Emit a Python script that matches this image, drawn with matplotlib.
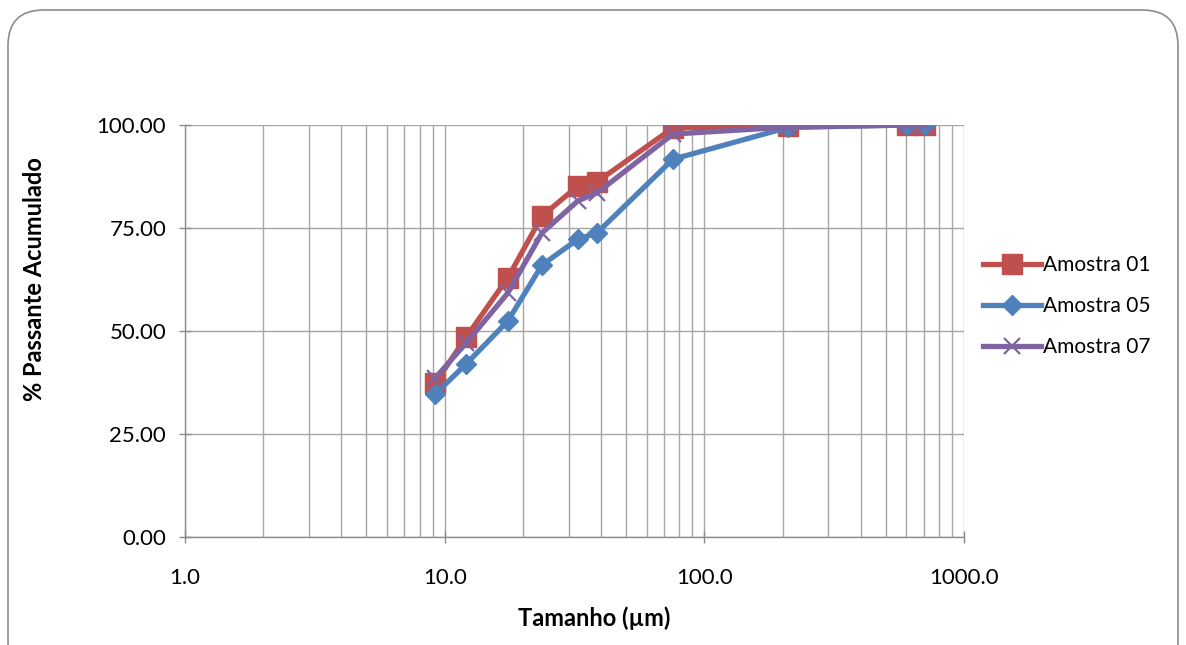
import matplotlib
matplotlib.use("Agg")
import matplotlib.pyplot as plt
from matplotlib.patches import FancyBboxPatch
from matplotlib.ticker import FixedLocator, FixedFormatter, LogLocator, NullFormatter

sizes = [9.2, 12.1, 17.5, 23.7, 32.6, 38.6, 75.7, 210, 603, 707]
amostra01 = [37.4, 48.5, 62.9, 77.9, 85.2, 86.2, 99.3, 99.8, 100.0, 100.0]
amostra05 = [34.7, 42.0, 52.4, 66.0, 72.3, 73.8, 91.7, 99.4, 100.0, 100.0]
amostra07 = [38.6, 47.1, 59.2, 73.8, 81.6, 83.5, 97.8, 99.5, 100.0, 100.0]
yticks = [0, 25, 50, 75, 100]
ytick_labels = ["0.00", "25.00", "50.00", "75.00", "100.00"]
xticks = [1, 10, 100, 1000]
xtick_labels = ["1.0", "10.0", "100.0", "1000.0"]

plt.rcParams['font.family'] = ['Lato', 'DejaVu Sans']

fig = plt.figure(figsize=(11.86, 6.45), dpi=100)
border = FancyBboxPatch((8/1186, -0.05), 1170/1186, (645-10)/645 + 0.05,
                        boxstyle="round,pad=0,rounding_size=0.03",
                        transform=fig.transFigure, facecolor='none',
                        edgecolor='#8c8c8c', linewidth=1.2, mutation_aspect=1186/645,
                        zorder=-5)
fig.patches.append(border)

ax = fig.add_axes([185/1186, 1-537/645, (964-185)/1186, (537-125)/645])
ax.patch.set_alpha(0)
ax.set_xscale('log')
ax.set_xlim(1, 1000)
ax.set_ylim(0, 100)

grid_c = '#a6a6a6'
ax.xaxis.set_major_locator(FixedLocator(xticks))
ax.xaxis.set_major_formatter(FixedFormatter(xtick_labels))
ax.xaxis.set_minor_locator(LogLocator(base=10, subs=range(2, 10)))
ax.xaxis.set_minor_formatter(NullFormatter())
ax.yaxis.set_major_locator(FixedLocator(yticks))
ax.yaxis.set_major_formatter(FixedFormatter(ytick_labels))
ax.grid(True, which='major', color=grid_c, linewidth=1.0)
ax.grid(True, which='minor', axis='x', color=grid_c, linewidth=1.0)
ax.set_axisbelow(True)

for s in ['top', 'right']:
    ax.spines[s].set_visible(False)
for s in ['left', 'bottom']:
    ax.spines[s].set_color('#8c8c8c')
    ax.spines[s].set_linewidth(1.0)
ax.tick_params(axis='both', which='major', direction='inout', length=9, color='#8c8c8c',
               labelsize=16, labelcolor='black', width=1.0)
ax.tick_params(axis='x', which='minor', length=0)
ax.tick_params(axis='x', which='major', pad=18)
ax.tick_params(axis='y', which='major', pad=9)

ax.plot(sizes, amostra01, color='#C0504D', linewidth=3.8, marker='s', markersize=14,
        label='Amostra 01', zorder=3)
ax.plot(sizes, amostra05, color='#4F81BD', linewidth=3.8, marker='D', markersize=10,
        label='Amostra 05', zorder=4)
ax.plot(sizes, amostra07, color='#8064A2', linewidth=3.8, marker='x', markersize=12,
        markeredgewidth=1.6, label='Amostra 07', zorder=5)

ax.set_xlabel('Tamanho (µm)', fontsize=17, fontweight='bold', va='center')
ax.xaxis.set_label_coords(0.525, -0.197)
ax.set_ylabel('% Passante Acumulado', fontsize=17, fontweight='bold', va='center')
ax.yaxis.set_label_coords(-0.193, 0.625)

leg = ax.legend(loc='center left', bbox_to_anchor=(1.0, 0.56), frameon=False,
                fontsize=15, handlelength=2.8, handletextpad=0.1, labelspacing=1.0)

fig.savefig('out.png', dpi=100)
